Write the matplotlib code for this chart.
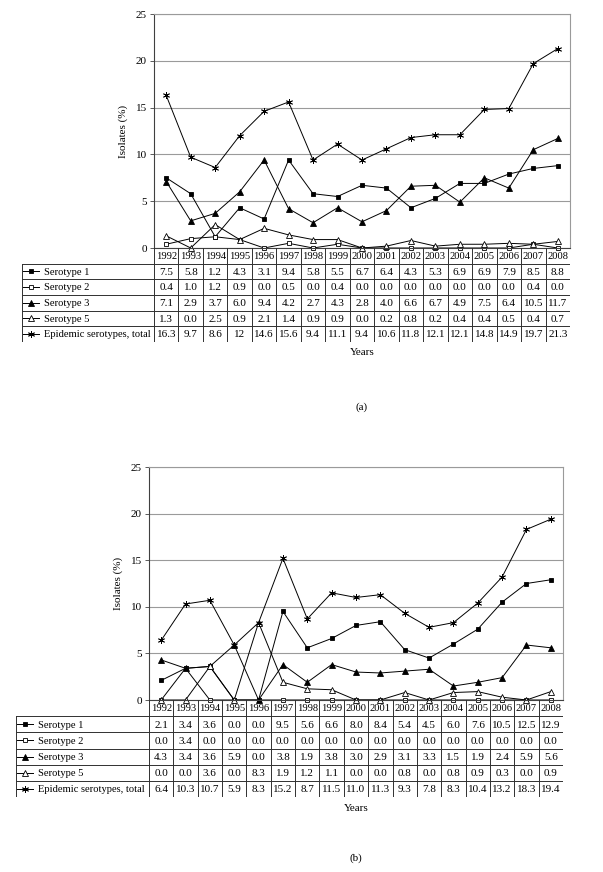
import matplotlib
matplotlib.use("Agg")
import matplotlib.pyplot as plt

plt.rcParams['font.family'] = ['Liberation Serif', 'DejaVu Serif']

W, H = 603, 872

years = list(range(1992, 2009))
labels = ["Serotype 1", "Serotype 2", "Serotype 3", "Serotype 5",
          "Epidemic serotypes, total"]

# panel (a)
a_s1 = [7.5, 5.8, 1.2, 4.3, 3.1, 9.4, 5.8, 5.5, 6.7, 6.4, 4.3, 5.3, 6.9, 6.9, 7.9, 8.5, 8.8]
a_s2 = [0.4, 1.0, 1.2, 0.9, 0.0, 0.5, 0.0, 0.4, 0.0, 0.0, 0.0, 0.0, 0.0, 0.0, 0.0, 0.4, 0.0]
a_s3 = [7.1, 2.9, 3.7, 6.0, 9.4, 4.2, 2.7, 4.3, 2.8, 4.0, 6.6, 6.7, 4.9, 7.5, 6.4, 10.5, 11.7]
a_s5 = [1.3, 0.0, 2.5, 0.9, 2.1, 1.4, 0.9, 0.9, 0.0, 0.2, 0.8, 0.2, 0.4, 0.4, 0.5, 0.4, 0.7]
a_tot = [16.3, 9.7, 8.6, 12, 14.6, 15.6, 9.4, 11.1, 9.4, 10.6, 11.8, 12.1, 12.1, 14.8, 14.9, 19.7, 21.3]

# panel (b)
b_s1 = [2.1, 3.4, 3.6, 0.0, 0.0, 9.5, 5.6, 6.6, 8.0, 8.4, 5.4, 4.5, 6.0, 7.6, 10.5, 12.5, 12.9]
b_s2 = [0.0, 3.4, 0.0, 0.0, 0.0, 0.0, 0.0, 0.0, 0.0, 0.0, 0.0, 0.0, 0.0, 0.0, 0.0, 0.0, 0.0]
b_s3 = [4.3, 3.4, 3.6, 5.9, 0.0, 3.8, 1.9, 3.8, 3.0, 2.9, 3.1, 3.3, 1.5, 1.9, 2.4, 5.9, 5.6]
b_s5 = [0.0, 0.0, 3.6, 0.0, 8.3, 1.9, 1.2, 1.1, 0.0, 0.0, 0.8, 0.0, 0.8, 0.9, 0.3, 0.0, 0.9]
b_tot = [6.4, 10.3, 10.7, 5.9, 8.3, 15.2, 8.7, 11.5, 11.0, 11.3, 9.3, 7.8, 8.3, 10.4, 13.2, 18.3, 19.4]

styles = [
    dict(marker='s', mfc='black', ms=3.5),
    dict(marker='s', mfc='white', ms=3.5),
    dict(marker='^', mfc='black', ms=4),
    dict(marker='^', mfc='white', ms=4),
    dict(marker=(6, 2, 0), mfc='black', ms=5),
]


def rect(l, t, r, b):
    return [l / W, 1 - b / H, (r - l) / W, (b - t) / H]


def fmt(v):
    if isinstance(v, int):
        return str(v)
    return "%.1f" % v


def panel(series, box, tab_left, tab_bottom, years_y, tag_y, tag):
    l, t, r, b = box
    n = len(years)
    x = list(range(n))

    ax = plt.gcf().add_axes(rect(l, t, r, b))
    for s, st in zip(series, styles):
        ax.plot(x, s, color='black', lw=0.7, mec='black', mew=0.6, **st, clip_on=False)
    ax.set_xlim(-0.5, n - 0.5)
    ax.set_ylim(0, 25)
    ax.set_yticks([0, 5, 10, 15, 20, 25])
    ax.set_xticks([])
    ax.yaxis.grid(True, color='#9a9a9a', lw=0.8)
    ax.set_axisbelow(True)
    for sp in ['top', 'right']:
        ax.spines[sp].set_color('#9a9a9a')
    ax.spines['left'].set_color('#404040')
    ax.spines['bottom'].set_color('#404040')
    ax.tick_params(axis='y', labelsize=8, length=3, width=0.6, color='#404040', pad=2)
    ax.set_ylabel("Isolates (%)", fontsize=8, labelpad=6)

    # table under the axis
    colw = (r - l) / n
    xl = -0.5 - (l - tab_left) / colw
    tx = plt.gcf().add_axes(rect(tab_left, b, r, tab_bottom))
    tx.set_xlim(xl, n - 0.5)
    tx.set_ylim(6, 0)
    tx.axis('off')
    lc = '#303030'
    for k in range(1, 7):
        tx.plot([xl, n - 0.5], [k, k], color=lc, lw=0.7)
    tx.plot([xl, xl], [1, 6], color=lc, lw=0.7)
    for i in range(n + 1):
        tx.plot([i - 0.5, i - 0.5], [0, 6], color=lc, lw=0.7)
    for i, yr in enumerate(years):
        tx.text(i, 0.55, str(yr), ha='center', va='center', fontsize=7.6)
    for k, (s, st, lab) in enumerate(zip(series, styles, labels)):
        yy = k + 1.5
        tx.plot([xl + 0.05, xl + 0.68], [yy, yy], color='black', lw=0.7)
        tx.plot([xl + 0.36], [yy], color='black', mec='black', mew=0.6, **st)
        tx.text(xl + 0.9, yy + 0.05, lab, ha='left', va='center', fontsize=7.6)
        for i, v in enumerate(s):
            tx.text(i, yy + 0.05, fmt(v), ha='center', va='center', fontsize=8)

    fig = plt.gcf()
    fig.text((l + r) / 2 / W, 1 - years_y / H, "Years", ha='center', va='center', fontsize=8)
    fig.text((l + r) / 2 / W, 1 - tag_y / H, tag, ha='center', va='center', fontsize=8)


fig = plt.figure(figsize=(W / 100, H / 100), dpi=100)
panel([a_s1, a_s2, a_s3, a_s5, a_tot], (154, 14, 570, 248), 22, 342, 352, 407, "(a)")
panel([b_s1, b_s2, b_s3, b_s5, b_tot], (149, 467, 563, 700), 16, 797, 808, 858, "(b)")
fig.savefig("out.png", dpi=100)
